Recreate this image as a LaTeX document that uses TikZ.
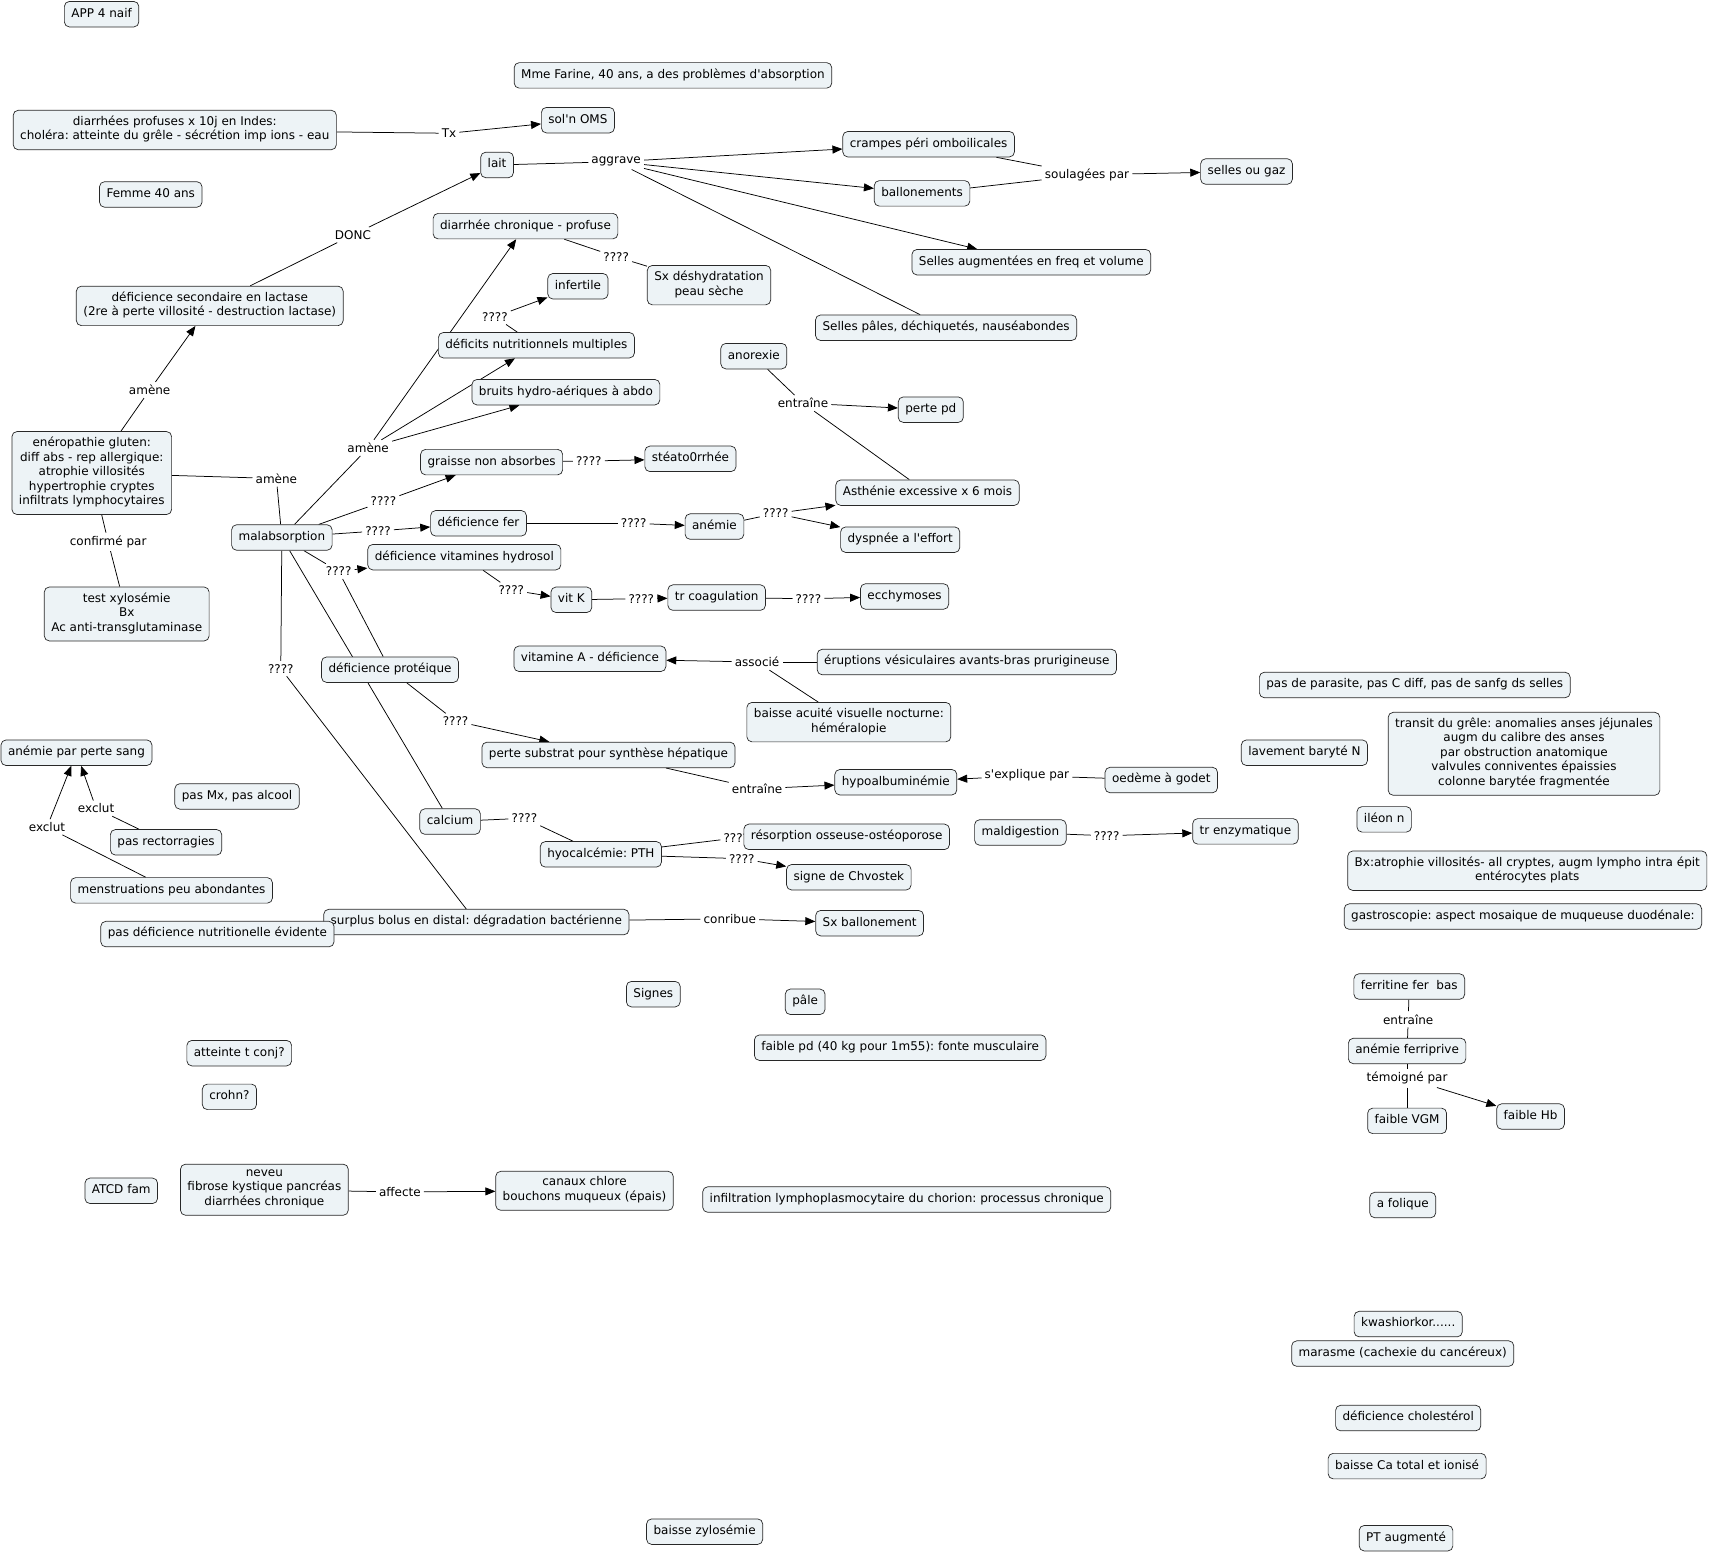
\documentclass[tikz,border=0pt]{standalone}
\usepackage{fontspec}
\setmainfont{DejaVu Sans}
\usepackage{xcolor}
\usepackage{tikz}
\usetikzlibrary{arrows.meta, backgrounds}
\definecolor{cmapfill}{RGB}{237,243,246}
\definecolor{cmapline}{RGB}{40,40,40}
\newcommand{\cmapfont}{\fontsize{12}{14.5}\selectfont}
\newcommand{\ap}{\textquotesingle}
\frenchspacing

\begin{document}
\begin{tikzpicture}[x=1.0925pt, y=-1.0925pt,
        cpt/.style={draw=cmapline, fill=cmapfill, rounded corners=5pt, align=center,
                inner xsep=7pt, inner ysep=5.5pt, line width=0.7pt, font=\cmapfont,
                execute at begin node=\strut, execute at end node=\strut},
        lk/.style={inner sep=3pt, font=\cmapfont},
        ln/.style={line width=0.75pt, draw=black},
        arr/.style={ln, -{Triangle[length=10pt,width=8pt]}}
        ]
        \useasboundingbox (0,0) rectangle (1568,1423);

        % linking phrases
        \node[lk] (lTx)   at (411,122) {Tx};
        \node[lk] (lDonc) at (323,215) {DONC};
        \node[lk] (lAggr) at (564,148) {aggrave};
        \node[lk] (lSoul) at (995,160) {soulagées par};
        \node[lk] (lQa)   at (564,235) {????};
        \node[lk] (lAma)  at (137,357) {amène};
        \node[lk] (lAmb)  at (253,438) {amène};
        \node[lk] (lConf) at (99,496)  {confirmé par};
        \node[lk] (lAmc)  at (337,410) {amène};
        \node[lk] (lQb)   at (453,290) {????};
        \node[lk] (lQc)   at (351,459) {????};
        \node[lk] (lQd)   at (539,422) {????};
        \node[lk] (lQe)   at (346,486) {????};
        \node[lk] (lQf)   at (580,479) {????};
        \node[lk] (lQg)   at (710,470) {????};
        \node[lk] (lEnta) at (735,369) {entraîne};
        \node[lk] (lQh)   at (310,523) {????};
        \node[lk] (lQi)   at (468,540) {????};
        \node[lk] (lQj)   at (587,548) {????};
        \node[lk] (lQk)   at (740,548) {????};
        \node[lk] (lAsso) at (693,606) {associé};
        \node[lk] (lQl)   at (257,612) {????};
        \node[lk] (lQm)   at (417,660) {????};
        \node[lk] (lEntb) at (693,722) {entraîne};
        \node[lk] (lExpl) at (940,710) {s\ap explique par};
        \node[lk] (lQn)   at (480,749) {????};
        \node[lk] (lQo)   at (674,767) {????};
        \node[lk] (lQp)   at (679,786) {????};
        \node[lk] (lQq)   at (1013,765) {????};
        \node[lk] (lExca) at (88,740)  {exclut};
        \node[lk] (lExcb) at (43,757)  {exclut};
        \node[lk] (lContr) at (668,841) {conribue};
        \node[lk] (lEntc) at (1289,933) {entraîne};
        \node[lk] (lTem)  at (1288,987) {témoigné par};
        \node[lk] (lAff)  at (366,1091) {affecte};

        % concepts
        \node[cpt] (app)      at (93,13)    {APP 4 naif};
        \node[cpt] (farine)   at (616,69)   {Mme Farine, 40 ans, a des problèmes d\ap absorption};
        \node[cpt] (cholera)  at (160,119)  {diarrhées profuses x 10j en Indes:\\choléra: atteinte du grêle - sécrétion imp ions - eau};
        \node[cpt] (oms)      at (529,110)  {sol\ap n OMS};
        \node[cpt] (lait)     at (455,151)  {lait};
        \node[cpt] (femme)    at (138,178)  {Femme 40 ans};
        \node[cpt] (crampes)  at (850,132)  {crampes péri omboilicales};
        \node[cpt] (ballon)   at (844,177)  {ballonements};
        \node[cpt] (gaz)      at (1141,157) {selles ou gaz};
        \node[cpt] (diarch)   at (481,207)  {diarrhée chronique - profuse};
        \node[cpt] (deshy)    at (649,261)  {Sx déshydratation\\peau sèche};
        \node[cpt] (sellaug)  at (944,240)  {Selles augmentées en freq et volume};
        \node[cpt] (lactase)  at (192,280)  {déficience secondaire en lactase\\(2re à perte villosité - destruction lactase)};
        \node[cpt] (infert)   at (529,262)  {infertile};
        \node[cpt] (pales)    at (866,300)  {Selles pâles, déchiquetés, nauséabondes};
        \node[cpt] (deficits) at (491,316)  {déficits nutritionnels multiples};
        \node[cpt] (anorex)   at (690,326)  {anorexie};
        \node[cpt] (bruits)   at (518,359)  {bruits hydro-aériques à abdo};
        \node[cpt] (pertepd)  at (852,375)  {perte pd};
        \node[cpt] (gluten)   at (84,433)   {enéropathie gluten:\\diff abs - rep allergique:\\atrophie villosités\\hypertrophie cryptes\\infiltrats lymphocytaires};
        \node[cpt] (graisse)  at (450,423)  {graisse non absorbes};
        \node[cpt] (steato)   at (632,420)  {stéato0rrhée};
        \node[cpt] (asthen)   at (849,451)  {Asthénie excessive x 6 mois};
        \node[cpt] (malabs)   at (258,492)  {malabsorption};
        \node[cpt] (fer)      at (438,479)  {déficience fer};
        \node[cpt] (anemie)   at (654,482)  {anémie};
        \node[cpt] (dyspnee)  at (824,494)  {dyspnée a l\ap effort};
        \node[cpt] (vitb)     at (425,510)  {déficience vitamines hydrosol};
        \node[cpt] (vitk)     at (523,549)  {vit K};
        \node[cpt] (coag)     at (656,547)  {tr coagulation};
        \node[cpt] (ecchy)    at (828,546)  {ecchymoses};
        \node[cpt] (xylo)     at (116,562)  {test xylosémie\\Bx\\Ac anti-transglutaminase};
        \node[cpt] (vita)     at (540,603)  {vitamine A - déficience};
        \node[cpt] (erupt)    at (885,606)  {éruptions vésiculaires avants-bras prurigineuse};
        \node[cpt] (parasite) at (1295,627) {pas de parasite, pas C diff, pas de sanfg ds selles};
        \node[cpt] (proteq)   at (357,613)  {déficience protéique};
        \node[cpt] (hemera)   at (777,661)  {baisse acuité visuelle nocturne:\\héméralopie};
        \node[cpt] (transit)  at (1395,690) {transit du grêle: anomalies anses jéjunales\\augm du calibre des anses\\par obstruction anatomique\\valvules conniventes épaissies\\colonne barytée fragmentée};
        \node[cpt] (anesang)  at (70,689)   {anémie par perte sang};
        \node[cpt] (lavement) at (1194,689) {lavement baryté N};
        \node[cpt] (substrat) at (557,691)  {perte substrat pour synthèse hépatique};
        \node[cpt] (hypoalb)  at (820,716)  {hypoalbuminémie};
        \node[cpt] (oedeme)   at (1063,714) {oedème à godet};
        \node[cpt] (pasmx)    at (217,729)  {pas Mx, pas alcool};
        \node[cpt] (ileon)    at (1267,750) {iléon n};
        \node[cpt] (calcium)  at (412,752)  {calcium};
        \node[cpt] (maldig)   at (934,762)  {maldigestion};
        \node[cpt] (trenz)    at (1140,761) {tr enzymatique};
        \node[cpt] (resorp)   at (775,766)  {résorption osseuse-ostéoporose};
        \node[cpt] (hypocal)  at (550,782)  {hyocalcémie: PTH};
        \node[cpt] (recto)    at (152,771)  {pas rectorragies};
        \node[cpt] (bxatro)   at (1398,797) {Bx:atrophie villosités- all cryptes, augm lympho intra épit\\entérocytes plats};
        \node[cpt] (chvostek) at (777,803)  {signe de Chvostek};
        \node[cpt] (menstru)  at (157,815)  {menstruations peu abondantes};
        \node[cpt] (gastro)   at (1394,839) {gastroscopie: aspect mosaique de muqueuse duodénale:};
        \node[cpt] (surplus)  at (436,844)  {surplus bolus en distal: dégradation bactérienne};
        \node[cpt] (sxball)   at (796,845)  {Sx ballonement};
        \node[cpt] (pasdef)   at (199,855)  {pas déficience nutritionelle évidente};
        \node[cpt] (signes)   at (598,910)  {Signes};
        \node[cpt] (pale)     at (737,917)  {pâle};
        \node[cpt] (ferrit)   at (1290,903) {ferritine fer\ \ bas};
        \node[cpt] (faiblepd) at (824,959)  {faible pd (40 kg pour 1m55): fonte musculaire};
        \node[cpt] (ferripr)  at (1288,962) {anémie ferriprive};
        \node[cpt] (conj)     at (219,964)  {atteinte t conj?};
        \node[cpt] (crohn)    at (210,1004) {crohn?};
        \node[cpt] (hb)       at (1401,1022) {faible Hb};
        \node[cpt] (vgm)      at (1288,1026) {faible VGM};
        \node[cpt] (atcd)     at (111,1090) {ATCD fam};
        \node[cpt] (neveu)    at (242,1089) {neveu\\fibrose kystique pancréas\\diarrhées chronique};
        \node[cpt] (canaux)   at (535,1090) {canaux chlore\\bouchons muqueux (épais)};
        \node[cpt] (infiltr)  at (830,1098) {infiltration lymphoplasmocytaire du chorion: processus chronique};
        \node[cpt] (folique)  at (1284,1103) {a folique};
        \node[cpt] (kwash)    at (1289,1212) {kwashiorkor......};
        \node[cpt] (marasme)  at (1284,1239) {marasme (cachexie du cancéreux)};
        \node[cpt] (cholest)  at (1289,1298) {déficience cholestérol};
        \node[cpt] (baisseca) at (1288,1342) {baisse Ca total et ionisé};
        \node[cpt] (ptaug)    at (1287,1408) {PT augmenté};
        \node[cpt] (zylo)     at (645,1402) {baisse zylosémie};

        \begin{scope}[on background layer]
                % concept -> linking phrase
                \foreach \a/\b in {cholera/lTx, lactase/lDonc, lait/lAggr, crampes/lSoul, ballon/lSoul,
                        diarch/lQa, lQa/deshy, gluten/lAma, gluten/lAmb, lAmb/malabs, gluten/lConf, lConf/xylo,
                        malabs/lAmc, deficits/lQb, malabs/lQc, graisse/lQd, malabs/lQe, fer/lQf, anemie/lQg,
                        anorex/lEnta, asthen/lEnta, malabs/lQh, lQh/proteq, vitb/lQi, vitk/lQj, coag/lQk,
                        erupt/lAsso, hemera/lAsso, malabs/lQl, lQl/surplus, proteq/lQm, substrat/lEntb,
                        oedeme/lExpl, calcium/lQn, lQn/hypocal, hypocal/lQo, hypocal/lQp, maldig/lQq,
                        recto/lExca, menstru/lExcb, surplus/lContr, ferrit/lEntc, lEntc/ferripr,
                        ferripr/lTem, lTem/vgm, neveu/lAff, malabs/calcium}
                        \draw[ln] (\a) -- (\b);
                % linking phrase -> concept
                \foreach \a/\b in {lTx/oms, lDonc/lait, lAggr/crampes, lAggr/ballon, lAggr/sellaug,
                        lSoul/gaz, lAma/lactase, lAmc/diarch, lAmc/deficits, lAmc/bruits, lQb/infert,
                        lQc/graisse, lQd/steato, lQe/fer, lQf/anemie, lQg/asthen, lQg/dyspnee, lEnta/pertepd,
                        lQh/vitb, lQi/vitk, lQj/coag, lQk/ecchy, lAsso/vita, lQm/substrat, lEntb/hypoalb,
                        lExpl/hypoalb, lQp/chvostek, lQq/trenz, lExca/anesang, lExcb/anesang, lContr/sxball,
                        lTem/hb, lAff/canaux}
                        \draw[arr] (\a) -- (\b);
                \draw[ln] (lAggr) -- (pales);
        \end{scope}
\end{tikzpicture}
\end{document}
